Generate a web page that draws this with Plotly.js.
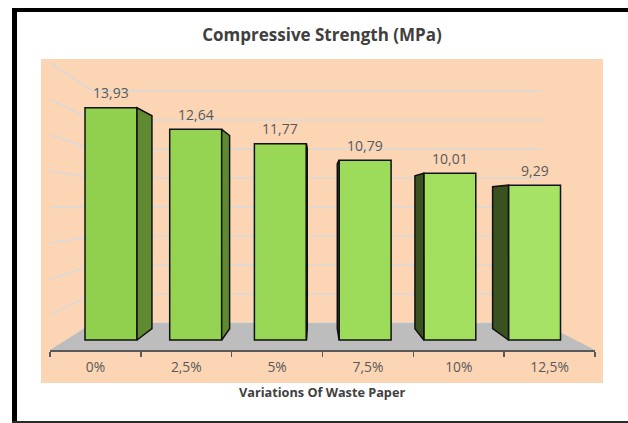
<!DOCTYPE html>
<html><head><meta charset="utf-8">
<script src="https://cdn.plot.ly/plotly-3.0.1.min.js"></script>
<style>html,body{margin:0;padding:0;background:#fff}#chart{width:628px;height:423px}</style>
</head><body><div id="chart"></div>
<script>
// ---- data ----
const categories = ['0%', '2,5%', '5%', '7,5%', '10%', '12,5%'];
const strength = [13.93, 12.64, 11.77, 10.79, 10.01, 9.29];
const wallTicks = [0, 2, 4, 6, 8, 10, 12, 14, 16];
const titleText = 'Compressive Strength (MPa)';
const xTitleText = 'Variations Of Waste Paper';

// ---- layout geometry (pixels) ----
const W = 628, H = 423;
const PL = 41, PR = 603, PT = 59, PB = 383;          // peach plot area
const fx = px => (px - PL) / (PR - PL);
const fy = py => (PB - py) / (PB - PT);

const AXL = 50, AXR = 595, AXY = 350;                 // front axis line
const X0PX = 111, XSTEP = 84.7;                       // bar spacing on the bar plane
const Y0PX = 340, YUNIT = 16.667;                     // bar plane vertical scale
const yTopVal = 16;
const yRange = [-(AXY - Y0PX) / YUNIT, yTopVal];
const yTopPx = Y0PX - yTopVal * YUNIT;
const x2Range = [(AXL - X0PX) / XSTEP, (AXR - X0PX) / XSTEP];
const barW = 52 / XSTEP;

// perspective of bar depth (data units of bar plane)
const VPX = 317, VPY = 204, K = 0.917;
const vx = (VPX - X0PX) / XSTEP, vy = (Y0PX - VPY) / YUNIT;
const back = (x, y) => [vx + K * (x - vx), vy + K * (y - vy)];

// back wall
const BWL = 93, BWR = 542, BWB = 323, BWT = 91;
const WVY = 207, KW = 0.806;
const wallMax = wallTicks[wallTicks.length - 1];

// ---- side faces ----
const idx = categories.map((c, i) => i);
const rx = [], ry = [], lx = [], ly = [];
idx.forEach(i => {
  const v = strength[i];
  const xr = i + barW / 2, xl = i - barW / 2;
  if (xr < vx) {
    const b0 = back(xr, 0), b1 = back(xr, v);
    rx.push(xr, xr, b1[0], b0[0], xr, null);
    ry.push(0, v, b1[1], b0[1], 0, null);
  }
  if (xl > vx) {
    const b0 = back(xl, 0), b1 = back(xl, v);
    lx.push(xl, xl, b1[0], b0[0], xl, null);
    ly.push(0, v, b1[1], b0[1], 0, null);
  }
});

const faceColors = ['#91cf4f', '#95d352', '#99d756', '#9ddb5a', '#a2df5f', '#a6e263'];

const traces = [
  { type: 'scatter', mode: 'none', x: categories, y: strength, xaxis: 'x', yaxis: 'y',
    hoverinfo: 'skip', showlegend: false },
  { type: 'bar', x: idx, y: strength, xaxis: 'x2', yaxis: 'y', width: barW,
    marker: { color: faceColors, line: { color: '#111', width: 1.5 } },
    hoverinfo: 'skip', showlegend: false },
  { type: 'scatter', mode: 'lines', x: rx, y: ry, xaxis: 'x2', yaxis: 'y', fill: 'toself',
    fillcolor: '#5f8a31', line: { color: '#111', width: 1.5 }, hoverinfo: 'skip', showlegend: false },
  { type: 'scatter', mode: 'lines', x: lx, y: ly, xaxis: 'x2', yaxis: 'y', fill: 'toself',
    fillcolor: '#3a5120', line: { color: '#111', width: 1.5 }, hoverinfo: 'skip', showlegend: false }
];

// ---- shapes (background, walls, floor, frame) ----
const shapes = [
  { type: 'rect', xref: 'paper', yref: 'paper', x0: 0, x1: 1, y0: 0, y1: 1,
    fillcolor: '#fcd5b5', line: { width: 0 }, layer: 'below' }
];
wallTicks.forEach(t => {
  const by = BWB - t * (BWB - BWT) / wallMax;
  const fyp = WVY + (by - WVY) / KW;
  // side wall line
  shapes.push({ type: 'line', xref: 'paper', yref: 'paper', x0: fx(AXL), y0: fy(fyp), x1: fx(BWL), y1: fy(by),
    line: { color: '#d9d9d9', width: 1.5 }, layer: 'below' });
  // back wall gridline
  shapes.push({ type: 'line', xref: 'paper', yref: 'paper', x0: fx(BWL), y0: fy(by), x1: fx(BWR), y1: fy(by),
    line: { color: '#d9d9d9', width: 1.5 }, layer: 'below' });
});
shapes.push({ type: 'path', xref: 'paper', yref: 'paper',
  path: `M ${fx(AXL)} ${fy(AXY)} L ${fx(AXR)} ${fy(AXY)} L ${fx(BWR)} ${fy(BWB)} L ${fx(BWL)} ${fy(BWB)} Z`,
  fillcolor: '#bdbdbd', line: { width: 0 }, layer: 'below' });
// outer frame
shapes.push({ type: 'line', xref: 'paper', yref: 'paper', x0: fx(14.5), x1: fx(14.5), y0: fy(8), y1: fy(423),
  line: { color: '#000', width: 5 } });
shapes.push({ type: 'line', xref: 'paper', yref: 'paper', x0: fx(12), x1: fx(640), y0: fy(10), y1: fy(10),
  line: { color: '#000', width: 4 } });
shapes.push({ type: 'line', xref: 'paper', yref: 'paper', x0: fx(12), x1: fx(640), y0: fy(422), y1: fy(422),
  line: { color: '#2b2b2b', width: 2 } });

// ---- annotations ----
const annotations = idx.map(i => ({
  xref: 'x2', yref: 'y', x: i, y: strength[i], text: strength[i].toFixed(2).replace('.', ','),
  showarrow: false, yshift: 15, yanchor: 'middle',
  font: { family: 'Open Sans', size: 14, color: '#595959' }
}));
annotations.push({ xref: 'paper', yref: 'paper', x: fx(321.5), y: fy(391.5), text: '<b>' + xTitleText + '</b>',
  showarrow: false, xanchor: 'center', yanchor: 'middle',
  font: { family: 'Open Sans', size: 12.7, color: '#404040' } });

const layout = {
  width: W, height: H,
  margin: { l: PL, r: W - PR, t: PT, b: H - PB, pad: 0 },
  paper_bgcolor: '#ffffff', plot_bgcolor: 'rgba(0,0,0,0)',
  showlegend: false,
  title: { text: '<b>' + titleText + '</b>', xref: 'container', yref: 'container',
    x: 322 / W, y: 1 - 35 / H, xanchor: 'center', yanchor: 'middle',
    font: { family: 'Open Sans', size: 17, color: '#404040' } },
  xaxis: { type: 'category', domain: [fx(AXL), fx(AXR)], range: [-0.5, 5.5], anchor: 'y',
    tickson: 'boundaries', ticks: 'outside', ticklen: 5, tickwidth: 1.5, tickcolor: '#595959',
    showline: true, linecolor: '#595959', linewidth: 1.5, showgrid: false, zeroline: false,
    ticklabelstandoff: 4,
    tickfont: { family: 'Open Sans', size: 13.8, color: '#595959' }, fixedrange: true },
  yaxis: { domain: [fy(AXY), fy(yTopPx)], range: yRange, visible: false, anchor: 'x', fixedrange: true },
  xaxis2: { overlaying: 'x', range: x2Range, visible: false, fixedrange: true },
  shapes: shapes,
  annotations: annotations
};

Plotly.newPlot('chart', traces, layout, { displayModeBar: false, staticPlot: true });
</script>
</body></html>
